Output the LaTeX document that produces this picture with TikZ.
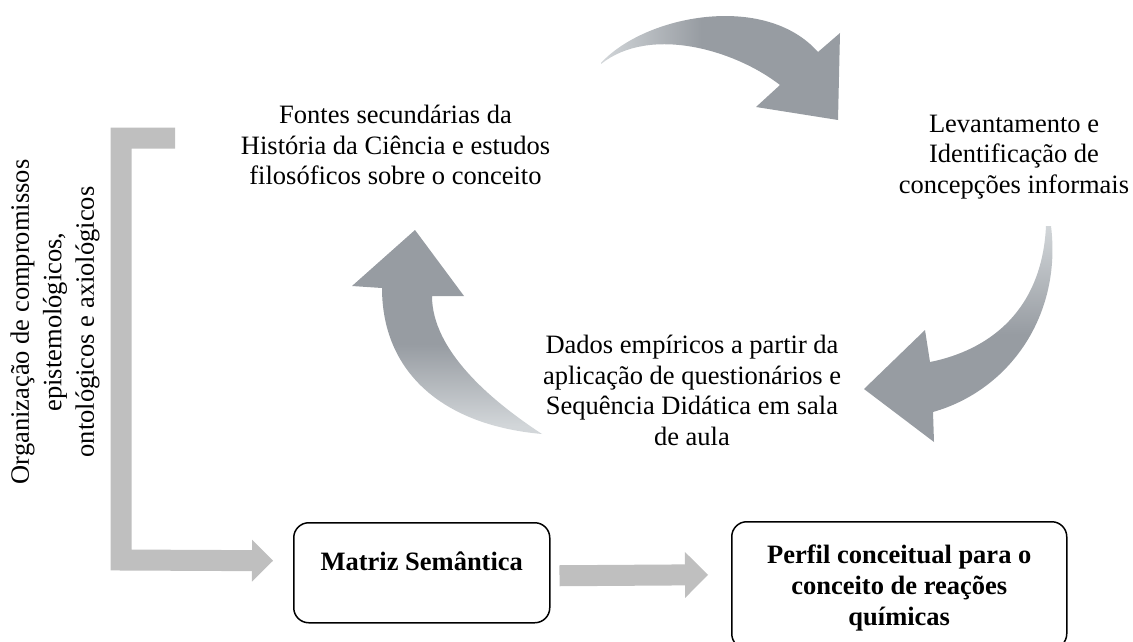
\documentclass[tikz,border=0pt]{standalone}
\usepackage{fontspec}
\setmainfont{Liberation Serif}
\usetikzlibrary{calc,arrows.meta}
\definecolor{arrdark}{HTML}{979CA2}
\definecolor{arrlight}{HTML}{D2D6D9}
\definecolor{fatgray}{HTML}{BFBFBF}
\pgfdeclarehorizontalshading{shadeA}{100bp}{color(0bp)=(arrlight); color(25bp)=(arrlight); color(46bp)=(arrdark); color(100bp)=(arrdark)}
\pgfdeclareverticalshading{shadeB}{100bp}{color(0bp)=(arrdark); color(50bp)=(arrdark); color(75bp)=(arrlight); color(100bp)=(arrlight)}
\pgfdeclareverticalshading{shadeC}{100bp}{color(0bp)=(arrlight); color(27bp)=(arrlight); color(47bp)=(arrdark); color(100bp)=(arrdark)}
\begin{document}
\begin{tikzpicture}[x=1pt,y=-1pt,
  txt/.style={font=\fontsize{26.5}{30.5}\selectfont, align=center, inner sep=0pt},
  boldtxt/.style={font=\fontsize{26.5}{31}\selectfont\bfseries, align=center, inner sep=0pt},
  roundbox/.style={draw=black, line width=1.5pt, rounded corners=15pt, inner sep=0pt, fill=white},
  fat/.style={draw=fatgray, line width=21pt}]
\useasboundingbox (0,0) rectangle (1133,642);

% curved arrows
\shade[shading=shadeA] (601,63) .. controls (645,15) and (765,-8) .. (818,52) -- (840,33) -- (838,120) -- (756,107) -- (780,85) .. controls (735,50) and (650,25) .. (601,64) -- cycle;
\shade[shading=shadeB] (1051,226) .. controls (1062,315) and (1010,390) .. (933,412) -- (934,442) -- (864,389) -- (925,330) -- (930,362) .. controls (990,350) and (1042,310) .. (1046,226) -- cycle;
\shade[shading=shadeC] (542,434) .. controls (490,400) and (432,350) .. (432,296) -- (464,296) -- (415,230) -- (352,286) -- (382,288) .. controls (382,370) and (440,425) .. (542,434) -- cycle;

% texts
\node[txt, anchor=north] (fontes) at (395.5,105) {Fontes secundárias da\\História da Ciência e estudos\\filosóficos sobre o conceito};
\node[txt, anchor=north] (levant) at (1014,114.5) {Levantamento e\\Identificação de\\concepções informais};
\node[txt, anchor=north] (dados) at (692,335) {Dados empíricos a partir da\\aplicação de questionários e\\Sequência Didática em sala\\de aula};
\node[txt, font=\fontsize{26.5}{32.5}\selectfont, rotate=90] (org) at (55,322) {Organização de compromissos\\epistemológicos,\\ontológicos e axiológicos};

% boxes
\node[roundbox, minimum width=256pt, minimum height=100pt, anchor=north west] (matriz) at (293,522) {};
\node[boldtxt, anchor=north] (matriztxt) at ($(matriz.north)+(0,30)$) {Matriz Semântica};
\node[roundbox, minimum width=335pt, minimum height=127pt, anchor=north west] (perfil) at (731,521) {};
\node[boldtxt, anchor=north] (perfiltxt) at ($(perfil.north)+(0,24)$) {Perfil conceitual para o\\conceito de reações\\químicas};

% straight arrows
\coordinate (brstart) at (175,138);
\draw[fat, -{Triangle[length=21pt,width=42pt,line width=0pt]}] (brstart) -- (121,138) -- (121,560) -- ($(matriz.west)+(-20,-12)$);
\draw[fat, -{Triangle[length=23pt,width=46pt,line width=0pt]}] ($(matriz.east)+(9,3)$) -- ($(perfil.west)+(-23,-10.5)$);
\end{tikzpicture}
\end{document}
